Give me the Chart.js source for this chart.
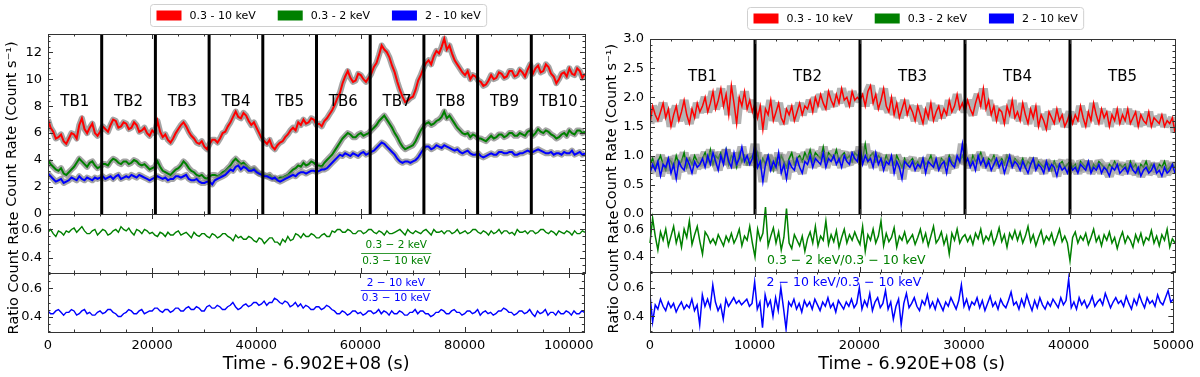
<!DOCTYPE html>
<html><head><meta charset="utf-8">
<script src="https://cdn.jsdelivr.net/npm/chart.js@4.4.1/dist/chart.umd.min.js"></script>
<style>
html,body{margin:0;padding:0;background:#fff;}
body{width:1200px;height:377px;position:relative;overflow:hidden;}
canvas{position:absolute;top:0;}
</style></head><body>
<canvas id="lTop" width="600" height="377" style="left:0"></canvas>
<canvas id="lMid" width="600" height="377" style="left:0"></canvas>
<canvas id="lBot" width="600" height="377" style="left:0"></canvas>
<canvas id="rTop" width="600" height="377" style="left:600px"></canvas>
<canvas id="rMid" width="600" height="377" style="left:600px"></canvas>
<canvas id="rBot" width="600" height="377" style="left:600px"></canvas>
<script>
// ---------------- DATA ----------------
const bandLabels = ['0.3 - 10 keV', '0.3 - 2 keV', '2 - 10 keV'];

// Left observation: bins of 500 s, t = 0 ... 103000 s
const leftBin = 500;
const leftRateFull = [
 7.0,6.4, 6.1,5.6, 5.7,5.9, 5.4,5.2, 5.6,6.0, 5.9,5.6, 6.6,7.1, 6.3,6.0, 6.4,6.7, 6.0,5.8,
 6.1,6.5, 6.3,6.1, 6.6,7.0, 6.9,6.4, 6.5,6.8, 6.7,6.3, 6.4,6.8, 6.6,6.1, 6.2,6.4, 6.0,5.8,
 6.2,6.0, 6.9,6.1, 5.7,5.9, 5.5,5.3, 5.6,6.0, 6.3,6.6, 6.8,6.5, 6.1,5.8, 5.6,5.3, 5.2,5.4,
 5.0,4.8, 5.2,5.5, 5.5,5.3, 5.6,6.0, 6.1,6.5, 6.8,7.2, 7.6,7.2, 7.1,7.5, 7.3,6.9, 6.6,6.8,
 6.4,6.0, 5.6,5.4, 5.2,5.5, 5.0,4.8, 5.1,5.3, 5.4,5.7, 5.9,6.2, 6.4,6.2, 6.8,6.6, 7.0,6.7,
 6.8,7.1, 7.0,6.6, 6.7,6.5, 6.9,7.1, 7.4,7.7, 8.1,8.6, 9.0,9.7, 10.2,10.6, 10.1,9.8, 9.9,10.4,
 10.3,10.0, 9.8,10.1, 10.4,10.9, 11.2,11.8, 12.5,12.2, 12.0,11.6, 11.0,10.5, 9.8,9.2, 8.7,8.3, 8.4,8.6,
 8.7,9.2, 9.9,10.3, 10.8,11.2, 11.4,11.1, 11.7,12.1, 11.9,12.4, 13.0,12.2, 12.5,11.9, 11.4,11.1, 10.8,10.5,
 10.3,10.6, 10.0,10.3, 10.2,9.9, 9.8,9.5, 9.6,9.9, 10.3,10.0, 10.1,10.5, 10.4,10.1, 10.2,10.6, 10.6,10.2,
 10.3,10.7, 10.5,10.2, 10.7,11.1, 10.4,10.8, 11.0,10.5, 10.6,11.1, 10.9,10.4, 10.2,9.7, 10.0,10.4, 10.5,10.2,
 10.8,10.4, 10.3,10.8, 10.6,10.1, 10.4];
const leftRateSoft = [
 4.0,3.7, 3.5,3.3, 3.2,3.4, 3.0,2.9, 3.1,3.3, 3.5,3.8, 4.1,3.9, 3.7,3.5, 3.8,3.9, 3.6,3.4,
 3.5,3.7, 3.7,3.6, 3.9,4.1, 4.0,3.8, 3.7,3.9, 3.9,3.7, 3.8,4.0, 3.9,3.7, 3.6,3.7, 3.5,3.3,
 3.4,3.5, 3.9,3.5, 3.2,3.1, 3.0,2.9, 3.1,3.3, 3.4,3.6, 3.9,3.7, 3.4,3.2, 3.1,2.9, 2.8,2.9,
 2.7,2.6, 2.8,2.9, 2.9,2.8, 2.9,3.1, 3.2,3.4, 3.6,3.9, 4.1,3.9, 3.7,3.8, 3.6,3.4, 3.3,3.4,
 3.2,3.0, 3.0,2.9, 2.8,2.9, 2.7,2.6, 2.6,2.7, 2.7,2.8, 2.9,3.1, 3.3,3.4, 3.6,3.5, 3.8,3.6,
 3.7,3.9, 3.8,3.6, 3.6,3.5, 3.8,4.0, 4.2,4.4, 4.7,5.0, 5.3,5.6, 5.8,6.0, 5.9,5.7, 5.7,5.9,
 6.0,5.8, 5.9,6.0, 6.2,6.4, 6.6,6.9, 7.1,7.3, 7.0,6.7, 6.4,6.0, 5.7,5.3, 5.0,4.8, 4.9,5.0,
 5.1,5.4, 5.8,6.2, 6.5,6.7, 6.8,6.6, 6.7,6.9, 7.0,7.2, 7.6,7.1, 7.3,7.0, 6.7,6.4, 6.2,6.0,
 5.9,6.0, 5.7,5.9, 5.8,5.6, 5.6,5.5, 5.4,5.6, 5.8,5.6, 5.7,5.9, 5.9,5.7, 5.8,6.0, 6.0,5.8,
 5.8,6.0, 5.9,5.8, 6.1,6.2, 5.8,6.0, 6.3,6.1, 6.0,6.2, 6.1,5.9, 5.8,5.6, 5.7,5.9, 6.0,5.8,
 6.2,6.0, 5.9,6.2, 6.2,6.0, 6.1];
const leftRateHard = [
 3.0,2.8, 2.6,2.4, 2.5,2.6, 2.3,2.4, 2.5,2.7, 2.6,2.5, 2.8,2.6, 2.5,2.7, 2.6,2.5, 2.7,2.6,
 2.7,2.8, 2.6,2.7, 2.8,2.6, 2.8,2.9, 2.6,2.7, 2.8,2.7, 2.9,2.8, 2.7,2.9, 2.8,2.7, 2.6,2.5,
 2.6,2.7, 2.8,2.7, 2.6,2.7, 2.5,2.6, 2.6,2.8, 2.8,2.7, 2.8,2.9, 2.6,2.5, 2.5,2.6, 2.4,2.3,
 2.3,2.4, 2.4,2.2, 2.5,2.6, 2.7,2.8, 2.9,3.1, 3.3,3.2, 3.5,3.6, 3.3,3.5, 3.4,3.2, 3.2,3.3,
 3.1,3.0, 2.9,2.8, 2.8,2.7, 2.6,2.7, 2.5,2.4, 2.5,2.6, 2.7,2.8, 2.9,2.8, 3.0,3.1, 3.1,3.0,
 3.1,3.2, 3.2,3.1, 3.2,3.3, 3.3,3.4, 3.6,3.8, 4.0,4.2, 4.4,4.3, 4.5,4.4, 4.3,4.5, 4.4,4.3,
 4.5,4.6, 4.4,4.5, 4.6,4.7, 4.9,5.1, 5.3,5.2, 5.0,4.8, 4.6,4.4, 4.1,3.9, 3.8,3.9, 3.9,3.8,
 3.9,4.0, 4.2,4.5, 4.8,5.0, 5.0,4.8, 4.9,5.1, 5.0,4.9, 5.1,5.0, 4.9,4.8, 4.7,4.8, 4.6,4.5,
 4.6,4.7, 4.5,4.4, 4.4,4.5, 4.3,4.2, 4.3,4.4, 4.5,4.4, 4.4,4.6, 4.6,4.5, 4.5,4.6, 4.6,4.4,
 4.4,4.5, 4.5,4.6, 4.7,4.6, 4.6,4.7, 4.8,4.7, 4.6,4.5, 4.5,4.6, 4.4,4.5, 4.5,4.4, 4.6,4.5,
 4.5,4.7, 4.4,4.5, 4.6,4.4, 4.5];
const leftRatioSoft = [
 0.58,0.60, 0.57,0.55, 0.59,0.58, 0.56,0.59, 0.58,0.60, 0.61,0.58, 0.60,0.62, 0.59,0.57, 0.57,0.59, 0.60,0.56,
 0.58,0.60, 0.59,0.56, 0.57,0.59, 0.60,0.58, 0.62,0.60, 0.59,0.61, 0.58,0.56, 0.60,0.59, 0.57,0.60, 0.59,0.57,
 0.58,0.56, 0.55,0.58, 0.57,0.55, 0.58,0.56, 0.56,0.58, 0.59,0.56, 0.57,0.58, 0.56,0.54, 0.58,0.56, 0.55,0.57,
 0.57,0.55, 0.54,0.57, 0.56,0.54, 0.55,0.57, 0.57,0.55, 0.54,0.52, 0.56,0.54, 0.55,0.53, 0.53,0.55, 0.54,0.52,
 0.51,0.54, 0.53,0.50, 0.52,0.54, 0.54,0.51, 0.51,0.49, 0.53,0.51, 0.55,0.52, 0.53,0.57, 0.56,0.54, 0.57,0.55,
 0.55,0.57, 0.56,0.54, 0.54,0.56, 0.57,0.55, 0.55,0.59, 0.58,0.60, 0.60,0.58, 0.58,0.60, 0.59,0.57, 0.57,0.59,
 0.59,0.57, 0.58,0.60, 0.60,0.58, 0.57,0.59, 0.58,0.56, 0.59,0.57, 0.57,0.58, 0.59,0.60, 0.58,0.56, 0.60,0.58,
 0.57,0.59, 0.58,0.57, 0.59,0.60, 0.58,0.56, 0.60,0.58, 0.58,0.59, 0.57,0.59, 0.59,0.57, 0.58,0.60, 0.57,0.58,
 0.59,0.57, 0.58,0.60, 0.60,0.58, 0.57,0.59, 0.58,0.56, 0.59,0.57, 0.58,0.60, 0.57,0.59, 0.59,0.57, 0.58,0.56,
 0.60,0.58, 0.58,0.59, 0.57,0.59, 0.59,0.57, 0.58,0.60, 0.60,0.58, 0.57,0.59, 0.58,0.56, 0.59,0.58, 0.57,0.59,
 0.58,0.56, 0.59,0.57, 0.57,0.59, 0.58];
const leftRatioHard = [
 0.44,0.42, 0.42,0.44, 0.45,0.43, 0.41,0.43, 0.43,0.45, 0.44,0.41, 0.42,0.44, 0.45,0.42, 0.43,0.41, 0.41,0.43,
 0.44,0.42, 0.43,0.45, 0.45,0.43, 0.42,0.40, 0.40,0.42, 0.43,0.45, 0.44,0.42, 0.42,0.44, 0.45,0.42, 0.43,0.44,
 0.44,0.46, 0.46,0.44, 0.43,0.45, 0.45,0.43, 0.44,0.46, 0.46,0.44, 0.44,0.46, 0.47,0.45, 0.45,0.47, 0.46,0.44,
 0.44,0.47, 0.48,0.46, 0.46,0.48, 0.47,0.45, 0.45,0.47, 0.48,0.50, 0.47,0.45, 0.46,0.48, 0.49,0.47, 0.48,0.50,
 0.50,0.48, 0.49,0.51, 0.48,0.50, 0.50,0.53, 0.52,0.50, 0.49,0.51, 0.50,0.47, 0.48,0.50, 0.47,0.49, 0.46,0.48,
 0.47,0.45, 0.45,0.47, 0.47,0.45, 0.46,0.48, 0.47,0.45, 0.44,0.42, 0.42,0.44, 0.43,0.41, 0.42,0.44, 0.44,0.42,
 0.43,0.41, 0.42,0.44, 0.44,0.42, 0.43,0.45, 0.42,0.44, 0.43,0.41, 0.44,0.42, 0.42,0.44, 0.43,0.41, 0.41,0.43,
 0.43,0.45, 0.42,0.44, 0.44,0.42, 0.42,0.40, 0.41,0.43, 0.43,0.45, 0.44,0.42, 0.42,0.44, 0.45,0.43, 0.43,0.41,
 0.42,0.44, 0.44,0.42, 0.43,0.45, 0.41,0.43, 0.44,0.42, 0.43,0.41, 0.42,0.44, 0.44,0.46, 0.45,0.43, 0.43,0.41,
 0.42,0.44, 0.44,0.42, 0.43,0.45, 0.42,0.40, 0.44,0.42, 0.43,0.45, 0.41,0.43, 0.43,0.41, 0.44,0.42, 0.42,0.44,
 0.43,0.41, 0.44,0.42, 0.42,0.44, 0.43];
const leftTBEdges = [10300,20600,30900,41200,51500,61800,72100,82400,92700];
const leftTBNames = ['TB1','TB2','TB3','TB4','TB5','TB6','TB7','TB8','TB9','TB10'];
const leftXTicks = [0,20000,40000,60000,80000,100000];
const leftYTicks = [0,2,4,6,8,10,12];

// Right observation: bins of 250 s, t = 0 ... 50000 s
const rightBin = 250;
const rightRateFull = [
 1.55,1.85,1.70,1.60,1.75,1.90,1.65,1.80,1.50,1.70,1.85,1.60,1.75,1.95,1.70,1.55,1.80,1.65,1.90,1.75,
 1.85,2.00,1.75,1.90,2.10,1.80,1.95,2.15,1.85,2.05,1.70,2.20,1.90,1.55,2.00,1.85,2.10,1.80,1.95,1.75,
 1.90,1.65,1.85,1.45,1.80,1.70,1.95,1.60,1.75,1.90,1.65,1.55,1.80,1.70,1.85,1.60,1.75,1.90,1.70,1.85,
 1.80,1.95,1.75,2.00,1.85,2.05,1.90,1.80,2.10,1.95,1.85,2.05,1.90,2.15,1.95,2.00,1.85,2.10,1.95,2.00,
 1.95,2.05,1.85,2.10,2.20,1.90,2.05,1.80,1.95,2.15,1.85,1.75,2.00,1.70,1.90,1.65,1.80,1.95,1.70,1.85,
 1.75,1.60,1.85,1.70,1.55,1.80,1.65,1.90,1.60,1.75,1.85,1.65,1.80,1.70,1.95,1.75,1.85,2.05,1.80,1.90,
 1.75,1.95,1.80,1.70,1.90,2.05,1.85,2.15,1.80,1.95,1.70,1.85,1.60,1.80,1.75,1.55,1.85,1.70,1.95,1.65,
 1.75,1.60,1.90,1.70,1.55,1.80,1.65,1.85,1.50,1.70,1.60,1.45,1.75,1.65,1.55,1.80,1.60,1.70,1.50,1.60,
 1.75,1.55,1.70,1.60,1.85,1.65,1.50,1.75,1.60,1.90,1.70,1.55,1.80,1.65,1.75,1.50,1.70,1.60,1.80,1.55,
 1.70,1.60,1.80,1.55,1.65,1.75,1.50,1.70,1.60,1.55,1.75,1.50,1.65,1.60,1.55,1.70,1.50,1.60,1.55,1.65,1.40];
const rightRateSoft = [
 0.85,0.95,0.80,0.90,1.00,0.85,0.75,0.95,0.90,0.80,1.00,0.85,0.90,1.05,0.80,0.95,0.85,1.00,0.90,0.85,
 0.95,1.05,0.90,1.10,0.85,1.00,0.95,1.05,0.90,1.10,0.85,1.00,0.95,0.80,1.05,0.90,1.00,0.85,0.95,1.00,
 0.90,1.05,0.80,0.95,0.85,1.00,0.90,0.75,0.95,0.85,1.00,0.90,0.80,0.95,1.05,0.85,0.95,1.00,0.90,1.05,
 0.95,1.10,0.90,1.05,1.00,0.95,1.15,0.90,1.05,1.00,0.95,1.10,0.90,1.00,1.05,0.95,1.00,0.90,1.05,1.00,
 1.05,0.95,1.20,0.90,1.00,1.05,0.90,1.00,0.95,0.85,1.00,0.90,0.95,0.85,1.00,0.90,0.80,0.95,0.85,0.90,
 0.95,0.85,0.90,0.80,0.95,0.85,0.90,1.00,0.85,0.90,0.80,0.95,0.90,0.85,1.00,0.90,0.85,0.95,0.90,1.00,
 0.90,0.95,0.85,1.00,0.90,0.95,1.05,0.90,0.85,0.95,0.90,1.00,0.85,0.90,0.95,0.85,1.00,0.90,0.85,0.95,
 0.90,0.85,0.95,0.80,0.90,0.85,0.95,0.80,0.90,0.85,0.80,0.90,0.85,0.75,0.90,0.80,0.85,0.90,0.80,0.85,
 0.90,0.80,0.85,0.75,0.90,0.85,0.80,0.90,0.75,0.85,0.80,0.90,0.85,0.80,0.75,0.85,0.80,0.90,0.80,0.85,
 0.80,0.85,0.75,0.90,0.80,0.85,0.70,0.85,0.80,0.90,0.75,0.85,0.80,0.75,0.85,0.80,0.90,0.75,0.80,0.85,0.80];
const rightRateHard = [
 0.70,0.85,0.75,0.90,0.65,0.85,0.80,0.95,0.70,0.85,0.60,0.90,0.80,0.75,0.95,0.85,0.70,0.90,0.80,0.85,
 0.95,0.80,1.00,0.85,1.05,0.90,0.75,1.00,0.85,1.10,0.90,0.80,1.05,0.85,0.95,1.15,0.90,1.00,0.85,0.95,
 1.20,0.80,0.90,0.55,0.85,1.00,0.75,0.90,0.80,1.05,0.70,0.85,0.60,0.90,0.80,0.75,0.95,0.80,0.70,0.90,
 0.85,1.00,0.80,0.95,0.90,0.85,1.05,0.80,0.95,0.90,1.00,0.85,0.95,0.80,1.00,0.90,0.85,1.05,0.95,0.90,
 1.15,0.85,1.00,0.90,0.95,0.80,1.05,0.85,0.95,0.75,0.90,0.85,1.00,0.70,0.90,0.80,0.60,0.90,0.85,0.80,
 0.90,0.75,0.85,0.80,0.95,0.70,0.90,0.85,0.80,0.95,0.75,0.85,0.90,0.70,0.95,0.85,0.80,1.00,0.90,1.20,
 0.85,0.95,0.80,0.90,0.75,1.00,0.85,0.95,0.80,0.90,0.75,0.85,0.95,0.80,0.90,0.70,0.85,1.00,0.80,0.90,
 0.85,0.75,0.90,0.80,0.70,0.85,0.95,0.75,0.85,0.80,0.70,0.90,0.75,0.85,0.80,0.65,0.85,0.75,0.80,0.70,
 0.85,0.75,0.80,0.70,0.85,0.80,0.75,0.90,0.70,0.80,0.75,0.85,0.70,0.80,0.75,0.65,0.80,0.75,0.85,0.70,
 0.75,0.80,0.70,0.85,0.75,0.70,0.80,0.65,0.75,0.80,0.70,0.75,0.85,0.70,0.75,0.65,0.80,0.70,0.75,0.85,0.70];
const rightRatioSoft = [
 0.50,0.68,0.55,0.45,0.58,0.52,0.60,0.48,0.55,0.62,0.50,0.57,0.47,0.60,0.54,0.66,0.49,0.56,0.62,0.51,
 0.42,0.58,0.55,0.50,0.53,0.49,0.56,0.52,0.48,0.55,0.51,0.57,0.50,0.54,0.60,0.48,0.55,0.52,0.62,0.50,
 0.40,0.60,0.52,0.57,0.76,0.48,0.55,0.61,0.50,0.58,0.45,0.54,0.75,0.50,0.46,0.56,0.52,0.48,0.55,0.44,
 0.53,0.58,0.50,0.62,0.48,0.55,0.52,0.66,0.49,0.56,0.51,0.59,0.47,0.54,0.60,0.50,0.56,0.52,0.58,0.53,
 0.49,0.62,0.44,0.56,0.52,0.60,0.50,0.55,0.66,0.48,0.57,0.51,0.54,0.61,0.47,0.55,0.52,0.58,0.50,0.53,
 0.56,0.49,0.54,0.60,0.51,0.57,0.48,0.55,0.62,0.50,0.53,0.58,0.49,0.55,0.42,0.57,0.52,0.60,0.50,0.54,
 0.56,0.51,0.55,0.49,0.57,0.53,0.60,0.50,0.55,0.52,0.58,0.49,0.54,0.61,0.51,0.56,0.47,0.57,0.53,0.59,
 0.52,0.58,0.50,0.55,0.62,0.51,0.56,0.48,0.54,0.59,0.50,0.55,0.52,0.57,0.49,0.54,0.60,0.51,0.55,0.50,
 0.37,0.54,0.58,0.50,0.55,0.52,0.57,0.49,0.54,0.60,0.51,0.55,0.48,0.56,0.52,0.58,0.50,0.54,0.46,0.53,
 0.58,0.50,0.55,0.52,0.47,0.56,0.51,0.57,0.49,0.54,0.52,0.59,0.50,0.55,0.48,0.56,0.52,0.60,0.47,0.53,0.50];
const rightRatioHard = [
 0.55,0.36,0.48,0.45,0.52,0.47,0.44,0.50,0.46,0.49,0.43,0.47,0.50,0.45,0.48,0.46,0.52,0.44,0.48,0.34,
 0.55,0.47,0.52,0.46,0.62,0.50,0.44,0.48,0.38,0.52,0.47,0.50,0.53,0.49,0.51,0.48,0.50,0.52,0.47,0.49,
 0.64,0.45,0.50,0.32,0.55,0.47,0.51,0.40,0.53,0.44,0.60,0.46,0.31,0.50,0.47,0.52,0.45,0.49,0.43,0.51,
 0.47,0.50,0.45,0.52,0.48,0.44,0.50,0.47,0.53,0.46,0.49,0.43,0.51,0.48,0.45,0.50,0.47,0.52,0.46,0.49,
 0.60,0.45,0.51,0.47,0.56,0.44,0.50,0.53,0.46,0.49,0.58,0.45,0.50,0.38,0.47,0.52,0.34,0.49,0.56,0.46,
 0.49,0.53,0.47,0.44,0.51,0.48,0.55,0.46,0.50,0.45,0.52,0.48,0.44,0.50,0.47,0.53,0.49,0.45,0.51,0.62,
 0.47,0.52,0.45,0.50,0.48,0.53,0.46,0.51,0.44,0.49,0.54,0.47,0.50,0.45,0.52,0.48,0.46,0.51,0.57,0.48,
 0.50,0.45,0.52,0.47,0.55,0.49,0.44,0.51,0.46,0.53,0.48,0.45,0.50,0.47,0.52,0.49,0.46,0.53,0.48,0.51,
 0.66,0.46,0.50,0.45,0.53,0.48,0.51,0.46,0.49,0.54,0.47,0.50,0.52,0.48,0.56,0.51,0.46,0.50,0.53,0.49,
 0.51,0.47,0.54,0.49,0.45,0.52,0.48,0.55,0.50,0.46,0.53,0.49,0.51,0.47,0.55,0.50,0.48,0.53,0.58,0.50,0.52];
const rightTBEdges = [10000,20000,30000,40000];
const rightTBNames = ['TB1','TB2','TB3','TB4','TB5'];
const rightXTicks = [0,10000,20000,30000,40000,50000];
const rightYTicks = [0,0.5,1.0,1.5,2.0,2.5,3.0];
const ratioTicks = [0.4,0.6];

// ---------------- STYLE / HELPERS ----------------
const FONT = "'DejaVu Sans', 'Liberation Sans', sans-serif";
Chart.defaults.font.family = FONT;
Chart.defaults.color = '#000';
const COL = {full:'#ff0000', soft:'#008000', hard:'#0000ff'};
const AXC = '#333333';

function toPoints(arr, bin){ return arr.map((v,i)=>({x:i*bin, y:v})); }

const mplAxes = {
  id:'mplAxes',
  afterDatasetsDraw(chart, args, o){
    const {ctx, chartArea:a} = chart, xs = chart.scales.x, ys = chart.scales.y;
    ctx.save();
    ctx.strokeStyle = AXC; ctx.lineWidth = 1;
    const seg=(x1,y1,x2,y2)=>{ctx.beginPath();ctx.moveTo(x1,y1);ctx.lineTo(x2,y2);ctx.stroke();};
    const X = v=>Math.round(xs.getPixelForValue(v))+0.5;
    const Y = v=>Math.round(ys.getPixelForValue(v))+0.5;
    const isMaj=(v,list)=>list.some(m=>Math.abs(m-v)<1e-6);
    for(let v=Math.ceil(xs.min/o.xMinor)*o.xMinor; v<=xs.max+1e-6; v+=o.xMinor){
      if(isMaj(v,o.xTicks)) continue; const p=X(v);
      seg(p,a.bottom,p,a.bottom-2.5); seg(p,a.top,p,a.top+2.5);
    }
    o.xTicks.forEach(v=>{const p=X(v); seg(p,a.bottom,p,a.bottom-5); seg(p,a.top,p,a.top+5);});
    for(let k=Math.ceil(ys.min/o.yMinor-1e-6); k*o.yMinor<=ys.max+1e-6; k++){
      const v=k*o.yMinor; if(isMaj(v,o.yTicks)) continue; const p=Y(v);
      seg(a.left,p,a.left+2.5,p); seg(a.right,p,a.right-2.5,p);
    }
    o.yTicks.forEach(v=>{const p=Y(v); seg(a.left,p,a.left+5,p); seg(a.right,p,a.right-5,p);});
    ctx.strokeRect(Math.round(a.left)+0.5, Math.round(a.top)+0.5, Math.round(a.right)-Math.round(a.left), Math.round(a.bottom)-Math.round(a.top));
    ctx.restore();
  }
};

const notes = {
  id:'notes',
  afterDraw(chart, args, o){
    const ctx=chart.ctx, xs=chart.scales.x, ys=chart.scales.y;
    (o.items||[]).forEach(it=>{
      ctx.save();
      ctx.fillStyle=it.color||'#000'; ctx.strokeStyle=it.color||'#000';
      ctx.font=it.font;
      let px = it.px!=null ? it.px : xs.getPixelForValue(it.x);
      let py = it.py!=null ? it.py : ys.getPixelForValue(it.y);
      ctx.textBaseline='middle'; ctx.textAlign=it.align||'center';
      if(it.rotate){ctx.translate(px,py);ctx.rotate(it.rotate);px=0;py=0;}
      if(it.frac){
        const w=Math.max(ctx.measureText(it.frac[0]).width, ctx.measureText(it.frac[1]).width)+2;
        ctx.fillText(it.frac[0], px, py-it.gap);
        ctx.fillText(it.frac[1], px, py+it.gap);
        ctx.lineWidth=0.8; const ly=Math.round(py)+0.5;
        ctx.beginPath(); ctx.moveTo(px-w/2,ly); ctx.lineTo(px+w/2,ly); ctx.stroke();
      } else ctx.fillText(it.text, px, py);
      ctx.restore();
    });
  }
};

const mplLegend = {
  id:'mplLegend',
  afterDraw(chart, args, o){
    if(!o || !o.show) return;
    const ctx=chart.ctx;
    ctx.save();
    ctx.font = o.font;
    const items = chart.data.datasets.filter(d=>d.legendLabel).map(d=>({t:d.legendLabel,c:d.borderColor}));
    const pw=25, ph=10, g=8, eg=22, pad=6;
    const widths = items.map(it=>pw+g+ctx.measureText(it.t).width);
    const total = widths.reduce((s,w)=>s+w,0)+eg*(items.length-1)+2*pad;
    const x0=Math.round(o.cx-total/2)+0.5, y0=o.top+0.5, h=o.h, r=3;
    ctx.beginPath();
    ctx.moveTo(x0+r,y0); ctx.lineTo(x0+total-r,y0); ctx.quadraticCurveTo(x0+total,y0,x0+total,y0+r);
    ctx.lineTo(x0+total,y0+h-r); ctx.quadraticCurveTo(x0+total,y0+h,x0+total-r,y0+h);
    ctx.lineTo(x0+r,y0+h); ctx.quadraticCurveTo(x0,y0+h,x0,y0+h-r);
    ctx.lineTo(x0,y0+r); ctx.quadraticCurveTo(x0,y0,x0+r,y0); ctx.closePath();
    ctx.fillStyle='rgba(255,255,255,0.85)'; ctx.fill();
    ctx.strokeStyle='#d0d0d0'; ctx.lineWidth=1; ctx.stroke();
    let x=x0+pad;
    items.forEach((it,i)=>{
      ctx.fillStyle=it.c; ctx.fillRect(x, y0+h/2-ph/2, pw, ph);
      ctx.fillStyle='#000'; ctx.textBaseline='middle'; ctx.textAlign='left';
      ctx.fillText(it.t, x+pw+g, y0+h/2+0.5);
      x+=widths[i]+eg;
    });
    ctx.restore();
  }
};

function makeChart(id, c){
  const W=600, H=377;
  return new Chart(document.getElementById(id), {
    type:'line',
    data:{datasets:c.datasets},
    options:{
      responsive:false, animation:false, devicePixelRatio:1,
      normalized:true,
      layout:{padding:{left:0, right:W-c.area.right, top:c.area.top, bottom:c.showX?0:H-c.area.bottom}},
      elements:{point:{radius:0}, line:{tension:0}},
      plugins:{legend:{display:false}, tooltip:{enabled:false},
        mplAxes:{xTicks:c.xTicks, yTicks:c.yTicks, xMinor:c.xMinor, yMinor:c.yMinor},
        notes:{items:c.notes||[]},
        mplLegend:c.legend||{show:false}},
      scales:{
        x:{type:'linear', min:c.xMin, max:c.xMax, display:c.showX,
           grid:{display:false, drawTicks:false}, border:{display:false},
           ticks:{padding:6, maxRotation:0, autoSkip:false, font:{size:13}, callback:v=>String(v)},
           afterBuildTicks:s=>{s.ticks=c.xTicks.map(v=>({value:v}));},
           afterFit:s=>{ if(c.showX) s.height=H-c.area.bottom; else s.height=0; },
           title:{display:!!c.xTitle, text:c.xTitle||'', font:{size:17.5}, padding:{top:0,bottom:2}}},
        y:{type:'linear', min:c.yMin, max:c.yMax,
           grid:{display:false, drawTicks:false}, border:{display:false},
           ticks:{padding:6, autoSkip:false, font:{size:13}, callback:c.yFmt},
           afterBuildTicks:s=>{s.ticks=c.yTicks.map(v=>({value:v}));},
           afterFit:s=>{s.width=c.area.left;},
           title:{display:!!c.yTitle, text:c.yTitle||'', font:{size:14.5}, padding:{top:4,bottom:0}}}
      }
    },
    plugins:[mplAxes, notes, mplLegend]
  });
}

function rateSets(full, soft, hard, bin, lw, gw, gcol, join, edges, yTop){
  const mk=(arr,col,ord,lab)=>[
    {data:toPoints(arr,bin), borderColor:gcol, borderWidth:gw, order:ord+1, borderJoinStyle:join, borderCapStyle:'butt'},
    {data:toPoints(arr,bin), borderColor:col, borderWidth:lw, order:ord, legendLabel:lab}];
  const ds=[...mk(full,COL.full,8,bandLabels[0]), ...mk(soft,COL.soft,6,bandLabels[1]), ...mk(hard,COL.hard,4,bandLabels[2])];
  edges.forEach(e=>ds.push({data:[{x:e,y:0},{x:e,y:yTop}], borderColor:'#000', borderWidth:3, order:1}));
  return ds;
}
function tbNotes(edges, names, xMax, yPos, size){
  const b=[0,...edges,xMax];
  return names.map((n,i)=>({text:n, x:(b[i]+b[i+1])/2, y:yPos, font:`${size}px ${FONT}`, color:'#000'}));
}

// ---------------- LEFT PANEL ----------------
const LA = {left:48, right:585};
const leftXMax = 103000, leftYMax = 13.35;
makeChart('lTop', {
  area:{...LA, top:34, bottom:214}, showX:false,
  xMin:0, xMax:leftXMax, xTicks:leftXTicks, xMinor:5000,
  yMin:0, yMax:leftYMax, yTicks:leftYTicks, yMinor:0.4, yFmt:v=>String(v),
  yTitle:'Count Rate (Count s\u207B\u00B9)',
  datasets:rateSets(leftRateFull,leftRateSoft,leftRateHard,leftBin,2,6,'rgba(125,125,125,0.7)','round',leftTBEdges,leftYMax),
  notes:tbNotes(leftTBEdges,leftTBNames,leftXMax,8.3,15),
  legend:{show:true, cx:318, top:4, h:22, font:`11px ${FONT}`}
});
makeChart('lMid', {
  area:{...LA, top:214, bottom:273}, showX:false,
  xMin:0, xMax:leftXMax, xTicks:leftXTicks, xMinor:5000,
  yMin:0.29, yMax:0.71, yTicks:ratioTicks, yMinor:0.05, yFmt:v=>v.toFixed(1),
  datasets:[{data:toPoints(leftRatioSoft,leftBin), borderColor:COL.soft, borderWidth:1.4}],
  notes:[{frac:['0.3 \u2212 2 keV','0.3 \u2212 10 keV'], x:66800, y:0.434, gap:8, font:`10.5px ${FONT}`, color:COL.soft}]
});
makeChart('lBot', {
  area:{...LA, top:273, bottom:332}, showX:true,
  xMin:0, xMax:leftXMax, xTicks:leftXTicks, xMinor:5000,
  yMin:0.29, yMax:0.71, yTicks:ratioTicks, yMinor:0.05, yFmt:v=>v.toFixed(1),
  xTitle:'Time - 6.902E+08 (s)',
  datasets:[{data:toPoints(leftRatioHard,leftBin), borderColor:COL.hard, borderWidth:1.4}],
  notes:[{frac:['2 \u2212 10 keV','0.3 \u2212 10 keV'], x:66800, y:0.586, gap:7.5, font:`10.5px ${FONT}`, color:COL.hard},
         {text:'Ratio Count Rate', px:14, py:273, rotate:-Math.PI/2, font:`14.5px ${FONT}`, color:'#000'}]
});

// ---------------- RIGHT PANEL ----------------
const RA = {left:50, right:575};
const rightXMax = 50000, rightYMax = 3.0;
makeChart('rTop', {
  area:{...RA, top:39, bottom:214}, showX:false,
  xMin:0, xMax:rightXMax, xTicks:rightXTicks, xMinor:2000,
  yMin:0, yMax:rightYMax, yTicks:rightYTicks, yMinor:0.1, yFmt:v=>v.toFixed(1),
  yTitle:'Count Rate (Count s\u207B\u00B9)',
  datasets:rateSets(rightRateFull,rightRateSoft,rightRateHard,rightBin,1.5,9,'rgba(128,128,128,0.6)','bevel',rightTBEdges,rightYMax),
  notes:tbNotes(rightTBEdges,rightTBNames,rightXMax,2.35,15),
  legend:{show:true, cx:315, top:7, h:22, font:`11px ${FONT}`}
});
makeChart('rMid', {
  area:{...RA, top:214, bottom:272}, showX:false,
  xMin:0, xMax:rightXMax, xTicks:rightXTicks, xMinor:2000,
  yMin:0.29, yMax:0.71, yTicks:ratioTicks, yMinor:0.05, yFmt:v=>v.toFixed(1),
  datasets:[{data:toPoints(rightRatioSoft,rightBin), borderColor:COL.soft, borderWidth:1.5, clip:false}],
  notes:[{text:'0.3 \u2212 2 keV/0.3 \u2212 10 keV', x:11140, y:0.372, align:'left', font:`12.5px ${FONT}`, color:COL.soft}]
});
makeChart('rBot', {
  area:{...RA, top:272, bottom:332}, showX:true,
  xMin:0, xMax:rightXMax, xTicks:rightXTicks, xMinor:2000,
  yMin:0.29, yMax:0.71, yTicks:ratioTicks, yMinor:0.05, yFmt:v=>v.toFixed(1),
  xTitle:'Time - 6.920E+08 (s)',
  datasets:[{data:toPoints(rightRatioHard,rightBin), borderColor:COL.hard, borderWidth:1.5}],
  notes:[{text:'2 \u2212 10 keV/0.3 \u2212 10 keV', x:11140, y:0.633, align:'left', font:`12.5px ${FONT}`, color:COL.hard},
         {text:'Ratio Count Rate', px:14, py:272, rotate:-Math.PI/2, font:`14.5px ${FONT}`, color:'#000'}]
});
</script>
</body></html>
